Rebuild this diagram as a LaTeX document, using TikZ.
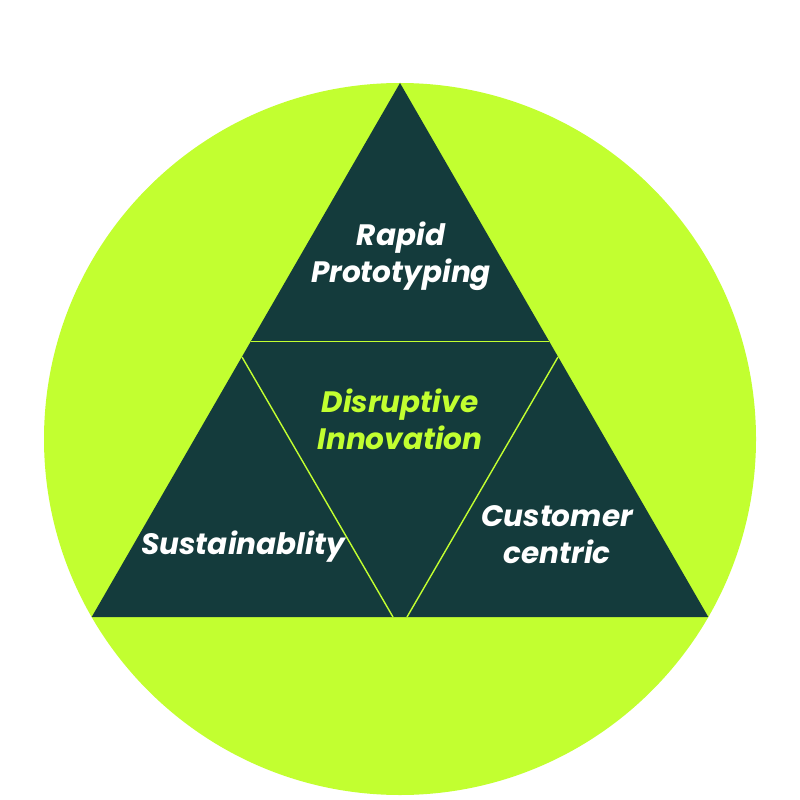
\documentclass[tikz,border=0pt]{standalone}
\usepackage{fontspec}
\setsansfont{Poppins}
\definecolor{ringgreen}{HTML}{C2FF30}
\definecolor{deepteal}{HTML}{143B3C}

\begin{document}
\begin{tikzpicture}[x=0.02cm,y=-0.02cm,
		pillar/.style={font=\sffamily\bfseries\itshape\fontsize{16.8}{21.2}\selectfont, text=white, align=center},
		split/.style={draw=ringgreen, line width=0.8pt}]
		\useasboundingbox (0,0) rectangle (800,800);
		\fill[ringgreen] (400,439) circle (356);
		
		\coordinate (apex) at (400,83);
		\coordinate (left) at (91.7,617);
		\coordinate (right) at (708.3,617);
		\fill[deepteal] (apex) -- (left) -- (right) -- cycle;
		
		\coordinate (hl) at (250.6,341.7);
		\coordinate (hr) at (549.4,341.7);
		\coordinate (ml) at (242,357);
		\coordinate (mr) at (558,357);
		\coordinate (bl) at (393,617);
		\coordinate (br) at (407,617);
		\draw[split] (hl) -- (hr);
		\draw[split] (ml) -- (bl);
		\draw[split] (mr) -- (br);
		
		\node[pillar] (rapid) at (401,256) {Rapid\\Prototyping};
		\node[pillar, text=ringgreen] (disrupt) at (400,419) {Disruptive\\Innovation};
		\node[pillar, anchor=base] (sustain) at (243,554) {Sustainablity};
		\node[pillar] (customer) at (557,535) {Customer\\centric};
\end{tikzpicture}
\end{document}
